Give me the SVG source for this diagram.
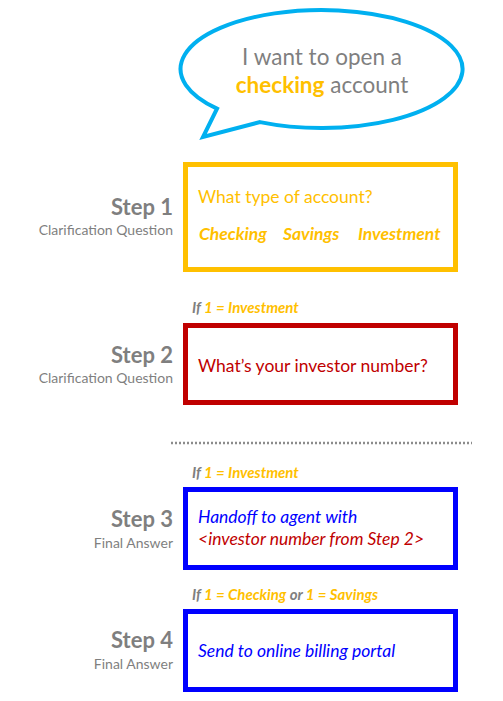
<svg xmlns="http://www.w3.org/2000/svg" width="503" height="701" viewBox="0 0 503 701">
<style>
text{font-family:Lato,"Open Sans","Liberation Sans",sans-serif}
.box{fill:#fff;stroke-width:5}
.step{font-size:22px;font-weight:bold;fill:#7f7f7f;text-anchor:end}
.sub{font-size:14px;fill:#7f7f7f;text-anchor:end}
.cond{font-size:15px;font-weight:bold;font-style:italic;fill:#ffc000}
.gray{fill:#7f7f7f}
.body{font-size:17.5px}
</style>
<rect width="503" height="701" fill="#fff"/>
<g id="bubble">
<path d="M 260 122.1 A 141 59 0 1 0 217 108.6 L 203 137 Z" fill="#fff" stroke="#00b0f0" stroke-width="4" stroke-linejoin="miter"/>
<text x="322" y="65" font-size="22.5" fill="#7f7f7f" text-anchor="middle">I want to open a</text>
<text x="322" y="93" font-size="22.5" text-anchor="middle"><tspan fill="#ffc000" font-weight="bold">checking</tspan><tspan fill="#7f7f7f"> account</tspan></text>
</g>
<g id="step1">
<text class="step" x="173" y="215">Step 1</text>
<text class="sub" x="173" y="235">Clarification Question</text>
<rect class="box" x="185.5" y="164.5" width="270" height="105" stroke="#ffc000"/>
<text class="body" x="198" y="203" fill="#ffc000">What type of account?</text>
<text class="body" y="240" fill="#ffc000" font-weight="bold" font-style="italic"><tspan x="199">Checking</tspan><tspan x="283">Savings</tspan><tspan x="358">Investment</tspan></text>
</g>
<g id="step2">
<text class="cond" x="192" y="313"><tspan class="gray">If </tspan>1 = Investment</text>
<text class="step" x="173" y="363">Step 2</text>
<text class="sub" x="173" y="383">Clarification Question</text>
<rect class="box" x="185.5" y="325.5" width="270" height="77" stroke="#c00000"/>
<text class="body" x="198" y="372" fill="#c00000">What’s your investor number?</text>
</g>
<g id="connectors">
<line x1="171" y1="443" x2="472" y2="443" stroke="#8c8c8c" stroke-width="2.5" stroke-dasharray="2 2"/>
</g>
<g id="step3">
<text class="cond" x="192" y="478"><tspan class="gray">If </tspan>1 = Investment</text>
<text class="step" x="173" y="527">Step 3</text>
<text class="sub" x="173" y="548">Final Answer</text>
<rect class="box" x="185.5" y="489.5" width="270" height="78" stroke="#0000ff"/>
<text class="body" x="198" y="523" fill="#0000ff" font-style="italic">Handoff to agent with</text>
<text class="body" x="198" y="545" fill="#c00000" font-style="italic">&lt;investor number from Step 2&gt;</text>
</g>
<g id="step4">
<text class="cond" x="192" y="600"><tspan class="gray">If </tspan>1 = Checking<tspan class="gray"> or </tspan>1 = Savings</text>
<text class="step" x="173" y="648">Step 4</text>
<text class="sub" x="173" y="669">Final Answer</text>
<rect class="box" x="185.5" y="611.5" width="270" height="78" stroke="#0000ff"/>
<text class="body" x="198" y="657" fill="#0000ff" font-style="italic">Send to online billing portal</text>
</g>
</svg>
